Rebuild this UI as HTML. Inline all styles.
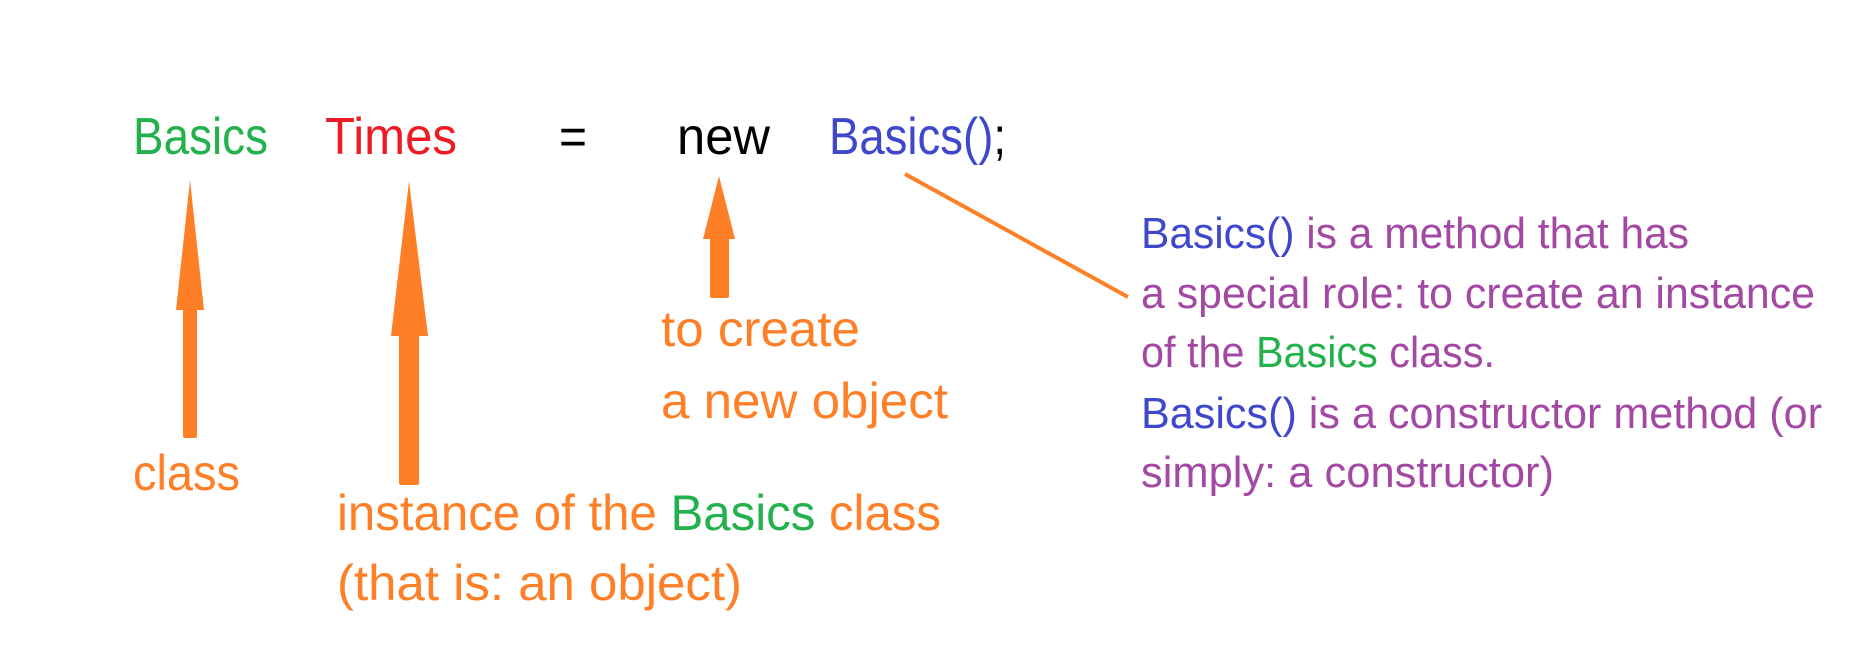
<!DOCTYPE html>
<html><head><meta charset="utf-8"><style>
html,body{margin:0;padding:0;background:#fff;width:1852px;height:650px;overflow:hidden}
text{font-family:"Liberation Sans",sans-serif}
</style></head><body>
<svg width="1852" height="650" viewBox="0 0 1852 650" xmlns="http://www.w3.org/2000/svg">
<g font-size="52">
<text x="133" y="154" fill="#22b14c" textLength="135" lengthAdjust="spacingAndGlyphs">Basics</text>
<text x="325" y="154" fill="#ed1c24" textLength="132" lengthAdjust="spacingAndGlyphs">Times</text>
<text x="559" y="154" fill="#000" textLength="28" lengthAdjust="spacingAndGlyphs">=</text>
<text x="677" y="154" fill="#000" textLength="93" lengthAdjust="spacingAndGlyphs">new</text>
<text x="829" y="154" fill="#3f48cc" textLength="177" lengthAdjust="spacingAndGlyphs">Basics()<tspan fill="#000">;</tspan></text>
</g>
<g fill="#ff7f27">
<polygon points="190,180 204,310 176,310"/>
<rect x="183" y="305" width="14" height="133" rx="2"/>
<polygon points="409,181 428,336 391,336"/>
<rect x="399" y="330" width="20" height="155" rx="2"/>
<polygon points="719,176 735,239 703,239"/>
<rect x="710" y="235" width="19" height="63" rx="2"/>
</g>
<line x1="905" y1="174" x2="1128" y2="297" stroke="#ff7f27" stroke-width="4"/>
<g font-size="50" fill="#ff7f27">
<text x="661" y="346" textLength="199" lengthAdjust="spacingAndGlyphs">to create</text>
<text x="661" y="418" textLength="287" lengthAdjust="spacingAndGlyphs">a new object</text>
<text x="133" y="490" textLength="107" lengthAdjust="spacingAndGlyphs">class</text>
<text x="337" y="530" textLength="604" lengthAdjust="spacingAndGlyphs">instance of the <tspan fill="#22b14c">Basics</tspan> class</text>
<text x="337" y="600" textLength="405" lengthAdjust="spacingAndGlyphs">(that is: an object)</text>
</g>
<g font-size="44" fill="#a349a4">
<text x="1141" y="248" textLength="548" lengthAdjust="spacingAndGlyphs"><tspan fill="#3f48cc">Basics()</tspan> is a method that has</text>
<text x="1141" y="308" textLength="674" lengthAdjust="spacingAndGlyphs">a special role: to create an instance</text>
<text x="1141" y="367" textLength="354" lengthAdjust="spacingAndGlyphs">of the <tspan fill="#22b14c">Basics</tspan> class.</text>
<text x="1141" y="428" textLength="681" lengthAdjust="spacingAndGlyphs"><tspan fill="#3f48cc">Basics()</tspan> is a constructor method (or</text>
<text x="1141" y="487" textLength="413" lengthAdjust="spacingAndGlyphs">simply: a constructor)</text>
</g>
</svg>
</body></html>
